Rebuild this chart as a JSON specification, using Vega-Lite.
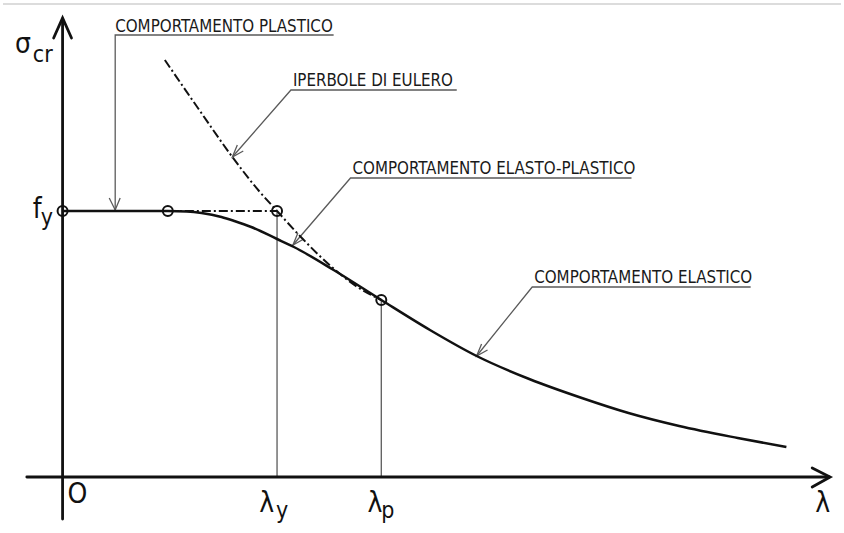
{
  "$schema": "https://vega.github.io/schema/vega-lite/v6.json",
  "width": 844,
  "height": 533,
  "autosize": {"type": "fit", "contains": "padding"},
  "padding": 0,
  "background": "white",
  "config": {"view": {"stroke": null}},
  "datasets": {
    "border": [
      {"seg": "top", "i": 0, "lam": -60, "sig": 473},
      {"seg": "top", "i": 1, "lam": 784, "sig": 473}
    ],
    "axes": [
      {"seg": "xaxis", "i": 0, "lam": -36, "sig": 0},
      {"seg": "xaxis", "i": 1, "lam": 772, "sig": 0},
      {"seg": "xarrow", "i": 0, "lam": 755, "sig": 9},
      {"seg": "xarrow", "i": 1, "lam": 773, "sig": 0},
      {"seg": "xarrow", "i": 2, "lam": 755, "sig": -10},
      {"seg": "yaxis", "i": 0, "lam": 0, "sig": -42},
      {"seg": "yaxis", "i": 1, "lam": 0, "sig": 458},
      {"seg": "yarrow", "i": 0, "lam": -9, "sig": 439},
      {"seg": "yarrow", "i": 1, "lam": 0, "sig": 459},
      {"seg": "yarrow", "i": 2, "lam": 9, "sig": 439}
    ],
    "curve": [
      {"i": 0, "lam": 0, "sig": 266},
      {"i": 1, "lam": 106, "sig": 266},
      {"i": 2, "lam": 125, "sig": 265.5},
      {"i": 3, "lam": 140, "sig": 264},
      {"i": 4, "lam": 160, "sig": 260},
      {"i": 5, "lam": 173, "sig": 256},
      {"i": 6, "lam": 190, "sig": 250},
      {"i": 7, "lam": 216, "sig": 238},
      {"i": 8, "lam": 233, "sig": 230},
      {"i": 9, "lam": 273, "sig": 207},
      {"i": 10, "lam": 321, "sig": 177},
      {"i": 11, "lam": 370, "sig": 147},
      {"i": 12, "lam": 417, "sig": 121},
      {"i": 13, "lam": 470, "sig": 98},
      {"i": 14, "lam": 523, "sig": 79},
      {"i": 15, "lam": 570, "sig": 64},
      {"i": 16, "lam": 621, "sig": 51},
      {"i": 17, "lam": 680, "sig": 39},
      {"i": 18, "lam": 729, "sig": 30}
    ],
    "euler": [
      {"i": 0, "lam": 103, "sig": 417},
      {"i": 1, "lam": 137, "sig": 368},
      {"i": 2, "lam": 171, "sig": 320},
      {"i": 3, "lam": 197, "sig": 287},
      {"i": 4, "lam": 216, "sig": 266},
      {"i": 5, "lam": 240, "sig": 240},
      {"i": 6, "lam": 270, "sig": 211},
      {"i": 7, "lam": 297, "sig": 190},
      {"i": 8, "lam": 321, "sig": 177}
    ],
    "plateau": [
      {"i": 0, "lam": 106, "sig": 266},
      {"i": 1, "lam": 216, "sig": 266}
    ],
    "thin": [
      {"seg": "v1", "i": 0, "lam": 216, "sig": 0},
      {"seg": "v1", "i": 1, "lam": 216, "sig": 266},
      {"seg": "v2", "i": 0, "lam": 321, "sig": 0},
      {"seg": "v2", "i": 1, "lam": 321, "sig": 177},
      {"seg": "L1", "i": 0, "lam": 273, "sig": 442},
      {"seg": "L1", "i": 1, "lam": 53, "sig": 442},
      {"seg": "L1", "i": 2, "lam": 53, "sig": 267},
      {"seg": "A1", "i": 0, "lam": 47, "sig": 279},
      {"seg": "A1", "i": 1, "lam": 53, "sig": 267},
      {"seg": "A1", "i": 2, "lam": 58, "sig": 279},
      {"seg": "L2", "i": 0, "lam": 397, "sig": 387},
      {"seg": "L2", "i": 1, "lam": 230, "sig": 387},
      {"seg": "L2", "i": 2, "lam": 171, "sig": 320},
      {"seg": "A2", "i": 0, "lam": 182, "sig": 326},
      {"seg": "A2", "i": 1, "lam": 171, "sig": 320},
      {"seg": "A2", "i": 2, "lam": 176, "sig": 332},
      {"seg": "L3", "i": 0, "lam": 573, "sig": 299},
      {"seg": "L3", "i": 1, "lam": 290, "sig": 299},
      {"seg": "L3", "i": 2, "lam": 232, "sig": 232},
      {"seg": "A3", "i": 0, "lam": 243, "sig": 238},
      {"seg": "A3", "i": 1, "lam": 232, "sig": 232},
      {"seg": "A3", "i": 2, "lam": 237, "sig": 244},
      {"seg": "L4", "i": 0, "lam": 693, "sig": 190},
      {"seg": "L4", "i": 1, "lam": 473, "sig": 190},
      {"seg": "L4", "i": 2, "lam": 417, "sig": 121},
      {"seg": "A4", "i": 0, "lam": 428, "sig": 127},
      {"seg": "A4", "i": 1, "lam": 417, "sig": 121},
      {"seg": "A4", "i": 2, "lam": 422, "sig": 133}
    ],
    "nodes": [
      {"lam": 0, "sig": 266},
      {"lam": 106, "sig": 266},
      {"lam": 216, "sig": 266},
      {"lam": 321, "sig": 177}
    ],
    "labels": [
      {"label": "COMPORTAMENTO PLASTICO", "lam": 53, "sig": 445},
      {"label": "IPERBOLE DI EULERO", "lam": 232, "sig": 391},
      {"label": "COMPORTAMENTO ELASTO-PLASTICO", "lam": 292, "sig": 303},
      {"label": "COMPORTAMENTO ELASTICO", "lam": 475, "sig": 194}
    ],
    "symbols": [
      {"label": "σ", "lam": -48, "sig": 424},
      {"label": "f", "lam": -30, "sig": 259},
      {"label": "O", "lam": 5, "sig": -26},
      {"label": "λ", "lam": 198, "sig": -35},
      {"label": "λ", "lam": 307, "sig": -35},
      {"label": "λ", "lam": 758, "sig": -35}
    ],
    "subs": [
      {"label": "cr", "lam": -30, "sig": 415},
      {"label": "y", "lam": -22, "sig": 252},
      {"label": "y", "lam": 215, "sig": -41},
      {"label": "p", "lam": 321, "sig": -41}
    ]
  },
  "layer": [
    {
      "data": {"name": "border"},
      "mark": {"type": "line", "color": "#d0d0d0", "strokeWidth": 1.5},
      "encoding": {
        "x": {"field": "lam", "type": "quantitative", "scale": {"domain": [-60, 784], "nice": false, "zero": false}, "axis": null},
        "y": {"field": "sig", "type": "quantitative", "scale": {"domain": [-56, 477], "nice": false, "zero": false}, "axis": null},
        "detail": {"field": "seg"},
        "order": {"field": "i"}
      }
    },
    {
      "data": {"name": "thin"},
      "mark": {"type": "line", "color": "#5a5a5a", "strokeWidth": 1.3},
      "encoding": {
        "x": {"field": "lam", "type": "quantitative", "scale": {"domain": [-60, 784], "nice": false, "zero": false}, "axis": null},
        "y": {"field": "sig", "type": "quantitative", "scale": {"domain": [-56, 477], "nice": false, "zero": false}, "axis": null},
        "detail": {"field": "seg"},
        "order": {"field": "i"}
      }
    },
    {
      "data": {"name": "axes"},
      "mark": {"type": "line", "color": "#111111", "strokeWidth": 2.8, "strokeCap": "round", "strokeJoin": "miter"},
      "encoding": {
        "x": {"field": "lam", "type": "quantitative", "scale": {"domain": [-60, 784], "nice": false, "zero": false}, "axis": null},
        "y": {"field": "sig", "type": "quantitative", "scale": {"domain": [-56, 477], "nice": false, "zero": false}, "axis": null},
        "detail": {"field": "seg"},
        "order": {"field": "i"}
      }
    },
    {
      "data": {"name": "euler"},
      "mark": {"type": "line", "color": "#111111", "strokeWidth": 2, "strokeDash": [9, 3, 2, 3], "interpolate": "monotone"},
      "encoding": {
        "x": {"field": "lam", "type": "quantitative", "scale": {"domain": [-60, 784], "nice": false, "zero": false}, "axis": null},
        "y": {"field": "sig", "type": "quantitative", "scale": {"domain": [-56, 477], "nice": false, "zero": false}, "axis": null},
        "order": {"field": "i"}
      }
    },
    {
      "data": {"name": "plateau"},
      "mark": {"type": "line", "color": "#111111", "strokeWidth": 2, "strokeDash": [9, 3, 2, 3]},
      "encoding": {
        "x": {"field": "lam", "type": "quantitative", "scale": {"domain": [-60, 784], "nice": false, "zero": false}, "axis": null},
        "y": {"field": "sig", "type": "quantitative", "scale": {"domain": [-56, 477], "nice": false, "zero": false}, "axis": null},
        "order": {"field": "i"}
      }
    },
    {
      "data": {"name": "curve"},
      "mark": {"type": "line", "color": "#111111", "strokeWidth": 2.5, "interpolate": "monotone"},
      "encoding": {
        "x": {"field": "lam", "type": "quantitative", "scale": {"domain": [-60, 784], "nice": false, "zero": false}, "axis": null},
        "y": {"field": "sig", "type": "quantitative", "scale": {"domain": [-56, 477], "nice": false, "zero": false}, "axis": null},
        "order": {"field": "i"}
      }
    },
    {
      "data": {"name": "nodes"},
      "mark": {"type": "point", "shape": "circle", "filled": false, "size": 100, "stroke": "#111111", "strokeWidth": 2, "opacity": 1},
      "encoding": {
        "x": {"field": "lam", "type": "quantitative", "scale": {"domain": [-60, 784], "nice": false, "zero": false}, "axis": null},
        "y": {"field": "sig", "type": "quantitative", "scale": {"domain": [-56, 477], "nice": false, "zero": false}, "axis": null}
      }
    },
    {
      "data": {"name": "labels"},
      "mark": {"type": "text", "align": "left", "baseline": "alphabetic", "font": "DejaVu Sans Condensed, sans-serif", "fontSize": 16.8, "color": "#1a1a1a"},
      "encoding": {
        "x": {"field": "lam", "type": "quantitative", "scale": {"domain": [-60, 784], "nice": false, "zero": false}, "axis": null},
        "y": {"field": "sig", "type": "quantitative", "scale": {"domain": [-56, 477], "nice": false, "zero": false}, "axis": null},
        "text": {"field": "label"}
      }
    },
    {
      "data": {"name": "symbols"},
      "mark": {"type": "text", "align": "left", "baseline": "alphabetic", "font": "DejaVu Sans Condensed, sans-serif", "fontSize": 28, "color": "#111111"},
      "encoding": {
        "x": {"field": "lam", "type": "quantitative", "scale": {"domain": [-60, 784], "nice": false, "zero": false}, "axis": null},
        "y": {"field": "sig", "type": "quantitative", "scale": {"domain": [-56, 477], "nice": false, "zero": false}, "axis": null},
        "text": {"field": "label"}
      }
    },
    {
      "data": {"name": "subs"},
      "mark": {"type": "text", "align": "left", "baseline": "alphabetic", "font": "DejaVu Sans Condensed, sans-serif", "fontSize": 23, "color": "#111111"},
      "encoding": {
        "x": {"field": "lam", "type": "quantitative", "scale": {"domain": [-60, 784], "nice": false, "zero": false}, "axis": null},
        "y": {"field": "sig", "type": "quantitative", "scale": {"domain": [-56, 477], "nice": false, "zero": false}, "axis": null},
        "text": {"field": "label"}
      }
    }
  ]
}
